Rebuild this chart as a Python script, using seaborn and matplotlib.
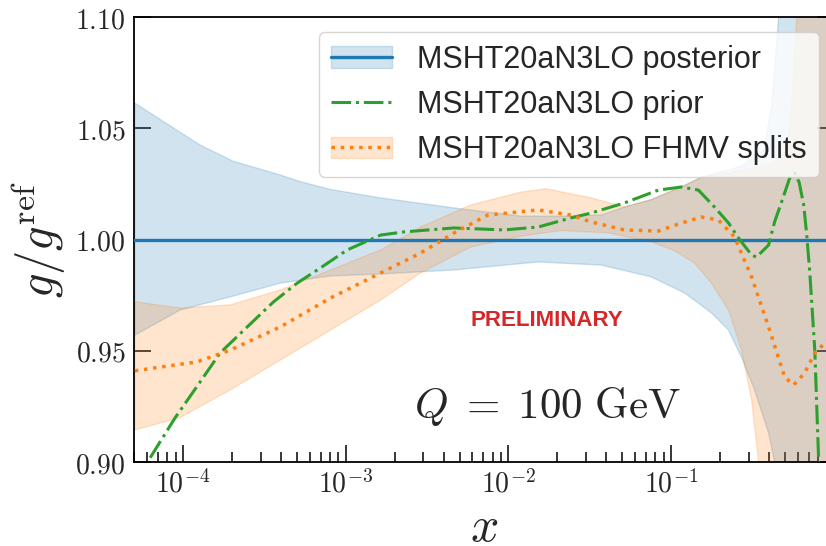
import numpy as np
import matplotlib
matplotlib.use("Agg")
import matplotlib.pyplot as plt
import seaborn as sns
from matplotlib.ticker import FixedLocator, FuncFormatter, LogLocator, NullFormatter

# ---------------- data ----------------
posterior_x = [5e-5, 1.0]
posterior_c = [1.0, 1.0]

posterior_hi_x = [5.06e-5, 7.97e-5, 1.27e-4, 2.03e-4, 3.96e-4, 5.26e-4, 8.05e-4, 1.64e-3,
                  4.61e-3, 1.19e-2, 2.10e-2, 3.71e-2, 5.14e-2, 7.53e-2, 0.1153, 0.1535,
                  0.2704, 0.369, 0.414, 0.4571, 0.5495, 1.0]
posterior_hi = [1.0613, 1.0520, 1.0425, 1.0352, 1.029, 1.0260, 1.0225, 1.0187,
                1.0142, 1.0105, 1.0105, 1.011, 1.0146, 1.018, 1.0236, 1.028,
                1.033, 1.04, 1.06, 1.10, 1.20, 1.30]
posterior_lo_x = [5.06e-5, 9.6e-5, 1.95e-4, 3.96e-4, 8.05e-4, 1.64e-3, 4.61e-3, 1.52e-2,
                  3.71e-2, 7.53e-2, 0.1205, 0.1766, 0.2249, 0.2704, 0.3251, 0.3963,
                  0.4315, 0.5495, 1.0]
posterior_lo = [0.957, 0.9683, 0.9742, 0.9804, 0.9836, 0.9845, 0.9863, 0.9899,
                0.9885, 0.9832, 0.976, 0.967, 0.9593, 0.947, 0.9324, 0.913,
                0.90, 0.80, 0.70]

prior_x = [5.5e-5, 6.27e-5, 8.93e-5, 1.22e-4, 1.69e-4, 2.48e-4, 3.59e-4, 5.03e-4, 6.98e-4,
           1.02e-3, 1.64e-3, 2.27e-3, 4.61e-3, 9.38e-3, 1.52e-2, 2.42e-2, 3.22e-2, 5.14e-2,
           8.33e-2, 0.1153, 0.1469, 0.1843, 0.2249, 0.263, 0.3119, 0.334, 0.3963, 0.4315,
           0.4766, 0.534, 0.5728, 0.6103, 0.6516, 0.680, 0.7096, 0.7621, 0.8054, 0.83]
prior_y = [0.888, 0.9018, 0.9198, 0.9340, 0.949, 0.9607, 0.9719, 0.9804, 0.9872,
           0.9953, 1.002, 1.0034, 1.0052, 1.0043, 1.0056, 1.0097, 1.0119, 1.0164,
           1.0222, 1.0236, 1.0222, 1.0146, 1.0074, 1.0, 0.993, 0.9921, 0.9975, 1.0079,
           1.0169, 1.0276, 1.0299, 1.0258, 1.0155, 1.002, 0.9854, 0.9503, 0.90, 0.86]

fhmv_x = [5.06e-5, 1.22e-4, 1.95e-4, 3.96e-4, 8.05e-4, 1.42e-3, 2.88e-3, 4.61e-3, 7.46e-3,
          1.52e-2, 2.42e-2, 3.22e-2, 5.14e-2, 8.33e-2, 0.1153, 0.1535, 0.195, 0.2449,
          0.3119, 0.3963, 0.4977, 0.5649, 0.6607, 0.7621, 0.917, 1.0]
fhmv_y = [0.941, 0.945, 0.9503, 0.9607, 0.9737, 0.9827, 0.9939, 1.0029, 1.011,
          1.0133, 1.011, 1.0079, 1.0043, 1.0038, 1.0074, 1.0101, 1.0088, 1.0011,
          0.9831, 0.9607, 0.9382, 0.9346, 0.940, 0.949, 0.9548, 0.957]

fhmv_hi_x = [5.06e-5, 9.6e-5, 1.95e-4, 3.96e-4, 8.05e-4, 1.64e-3, 2.88e-3, 5.86e-3, 1.19e-2,
             1.7e-2, 3.22e-2, 5.14e-2, 7.53e-2, 0.1153, 0.1535, 0.2704, 0.414, 0.5117,
             0.5495, 0.5902, 0.68, 1.0]
fhmv_hi = [0.972, 0.9692, 0.9706, 0.9773, 0.9863, 0.9953, 1.0056, 1.0155, 1.0213,
           1.0228, 1.0187, 1.0146, 1.0178, 1.0236, 1.028, 1.031, 1.034, 1.04,
           1.06, 1.10, 1.15, 1.25]
fhmv_lo_x = [5.06e-5, 9.6e-5, 1.95e-4, 3.96e-4, 8.05e-4, 1.64e-3, 2.88e-3, 5.86e-3, 1.19e-2,
             2.10e-2, 4.09e-2, 7.53e-2, 0.1045, 0.1387, 0.1766, 0.2249, 0.2704, 0.3119,
             0.3443, 0.414, 1.0]
fhmv_lo = [0.9144, 0.920, 0.9324, 0.9458, 0.9593, 0.9728, 0.985, 0.9966, 1.0015,
           1.004, 1.003, 0.999, 0.995, 0.9894, 0.9804, 0.9683, 0.9503, 0.9279,
           0.90, 0.85, 0.80]

labels = ["MSHT20aN3LO posterior", "MSHT20aN3LO prior", "MSHT20aN3LO FHMV splits"]
x_ticks = [1e-4, 1e-3, 1e-2, 1e-1]
y_ticks = [0.90, 0.95, 1.00, 1.05, 1.10]

# ---------------- style ----------------
sns.set_theme(style="ticks")
plt.rcParams["mathtext.fontset"] = "cm"
plt.rcParams["font.family"] = ["DejaVu Sans"]

C0, C1, C2 = "#1f77b4", "#ff7f0e", "#2ca02c"

fig = plt.figure(figsize=(8.26, 5.46), dpi=100)
fig.patch.set_facecolor("white")
ax = fig.add_axes([134 / 826, 84 / 546, 700 / 826, 445 / 546])
ax.set_facecolor("white")
ax.set_xscale("log")

# bands
poly_post = ax.fill(np.concatenate([posterior_hi_x, posterior_lo_x[::-1]]),
                    np.concatenate([posterior_hi, posterior_lo[::-1]]),
                    facecolor=C0, edgecolor=C0, alpha=0.2, lw=1.0, zorder=1)[0]
poly_fhmv = ax.fill(np.concatenate([fhmv_hi_x, fhmv_lo_x[::-1]]),
                    np.concatenate([fhmv_hi, fhmv_lo[::-1]]),
                    facecolor=C1, edgecolor=C1, alpha=0.2, lw=1.0, zorder=1)[0]

# lines
sns.lineplot(x=posterior_x, y=posterior_c, ax=ax, color=C0, lw=2.4, estimator=None, zorder=3)
line_post = ax.lines[-1]
sns.lineplot(x=prior_x, y=prior_y, ax=ax, color=C2, lw=2.2, linestyle="-.", estimator=None,
             sort=False, zorder=4)
line_prior = ax.lines[-1]
sns.lineplot(x=fhmv_x, y=fhmv_y, ax=ax, color=C1, lw=2.5, linestyle=":", estimator=None,
             sort=False, zorder=4)
line_fhmv = ax.lines[-1]

# axes
ax.set_xlim(5e-5, 1.0)
ax.set_ylim(0.90, 1.10)
ax.yaxis.set_major_locator(FixedLocator(y_ticks))
ax.yaxis.set_major_formatter(FuncFormatter(lambda v, p: r"$%.2f$" % v))
ax.xaxis.set_major_locator(FixedLocator(x_ticks))
ax.xaxis.set_minor_locator(LogLocator(base=10, subs=np.arange(2, 10), numticks=12))
ax.xaxis.set_major_formatter(FuncFormatter(lambda v, p: r"$10^{%d}$" % int(round(np.log10(v)))))
ax.xaxis.set_minor_formatter(NullFormatter())

ax.tick_params(which="both", direction="in", top=False, right=True, width=1.1, color="black")
ax.tick_params(which="major", length=12, labelsize=20, pad=6)
ax.tick_params(which="minor", length=7)
ax.tick_params(axis="y", which="minor", left=False, right=False)
for s in ax.spines.values():
    s.set_color("black")
    s.set_linewidth(1.3)
    s.set_visible(True)

ax.set_xlabel(r"$x$", fontsize=36, labelpad=3)
ax.set_ylabel(r"$g/g^{\rm ref}$", fontsize=35, labelpad=5)

ax.text(0.59, 0.319, "PRELIMINARY", transform=ax.transAxes, ha="center", va="center",
        color="#d62728", fontweight="bold", fontsize=16, family="Liberation Sans", zorder=5)
ax.text(0.591, 0.099, r"$Q\;=\;100\ \mathrm{GeV}$", transform=ax.transAxes, ha="center",
        va="baseline", fontsize=31, zorder=5)

leg = ax.legend([(poly_post, line_post), line_prior, (poly_fhmv, line_fhmv)], labels,
                loc="upper right", frameon=True, fancybox=True, framealpha=0.8,
                edgecolor="0.8", prop={"family": "Liberation Sans", "size": 22})
leg.set_zorder(10)

fig.savefig("out.png", dpi=100)
